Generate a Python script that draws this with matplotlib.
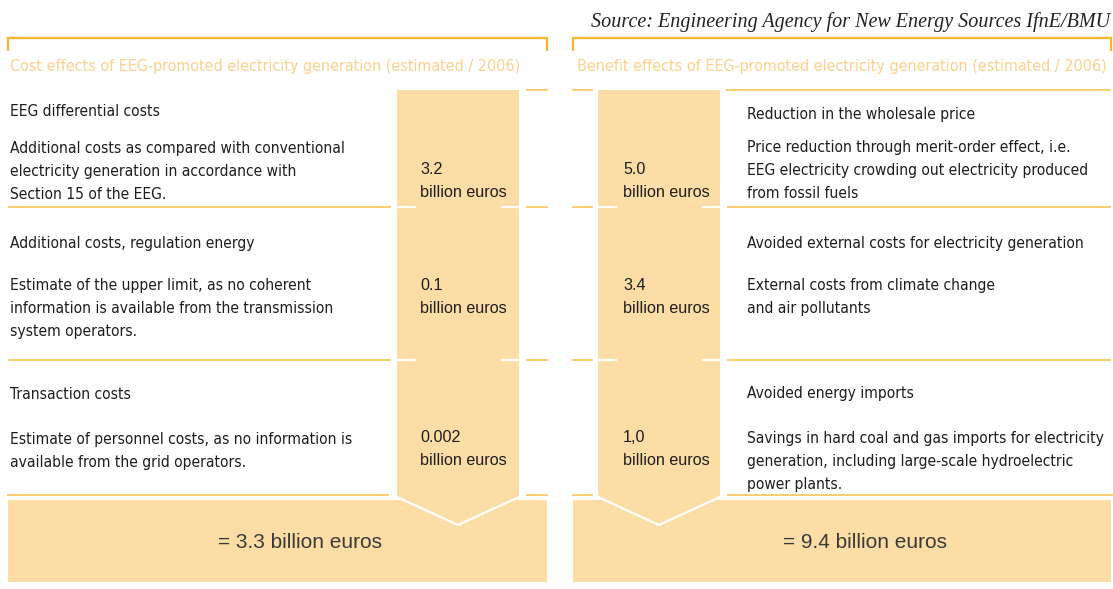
import os
import matplotlib
matplotlib.use("Agg")
import matplotlib.pyplot as plt
from matplotlib import font_manager as fm
from matplotlib.patches import Polygon, Rectangle

# ---------------- data ----------------
source_text = "Source: Engineering Agency for New Energy Sources IfnE/BMU"
cost_title = "Cost effects of EEG-promoted electricity generation (estimated / 2006)"
benefit_title = "Benefit effects of EEG-promoted electricity generation (estimated / 2006)"

cost_headings = ["EEG differential costs",
                 "Additional costs, regulation energy",
                 "Transaction costs"]
cost_descriptions = [
    ["Additional costs as compared with conventional",
     "electricity generation in accordance with",
     "Section 15 of the EEG."],
    ["Estimate of the upper limit, as no coherent",
     "information is available from the transmission",
     "system operators."],
    ["Estimate of personnel costs, as no information is",
     "available from the grid operators."],
]
cost_values = ["3.2", "0.1", "0.002"]
cost_total = "3.3"

benefit_headings = ["Reduction in the wholesale price",
                    "Avoided external costs for electricity generation",
                    "Avoided energy imports"]
benefit_descriptions = [
    ["Price reduction through merit-order effect, i.e.",
     "EEG electricity crowding out electricity produced",
     "from fossil fuels"],
    ["External costs from climate change",
     "and air pollutants"],
    ["Savings in hard coal and gas imports for electricity",
     "generation, including large-scale hydroelectric",
     "power plants."],
]
benefit_values = ["5.0", "3.4", "1,0"]
benefit_total = "9.4"
unit = "billion euros"

# ---------------- fonts ----------------
def find_font(candidates):
    files = {os.path.basename(f.fname): f.fname for f in fm.fontManager.ttflist}
    for c in candidates:
        if c in files:
            return files[c]
    return None

body_file = find_font(["LiberationSansNarrow-Regular.ttf", "DejaVuSansCondensed.ttf"])
if body_file and "Narrow" in body_file:
    body_size = 12.8
elif body_file:
    body_size = 11.2
else:
    body_size = 10.2
title_size = body_size * 1.03

def body_fp(size=None):
    s = size if size else body_size
    if body_file:
        return fm.FontProperties(fname=body_file, size=s)
    return fm.FontProperties(family="DejaVu Sans", size=s)

value_fp = fm.FontProperties(family="Liberation Sans", size=11.6)
total_fp = fm.FontProperties(family="Liberation Sans", size=15)
source_fp = fm.FontProperties(family="Liberation Serif", style="italic", size=14.5)

# ---------------- colours ----------------
FILL = "#FCDDA6"
BRACKET = "#F9B42A"
SEP = "#FBC963"
TITLE = "#FDD08C"
TEXT = "#1e1e1e"
TOTAL_TXT = "#3a3a3a"

# ---------------- figure ----------------
W, H = 1113, 589
fig = plt.figure(figsize=(W / 100, H / 100), dpi=100)
ax = fig.add_axes([0, 0, 1, 1])
ax.set_xlim(0, W)
ax.set_ylim(H, 0)
ax.axis("off")

panels = [
    dict(x0=8, x1=547, bx0=397, bx1=519, text_x=10, val_x=420, total_x=300, title_x=10,
         title=cost_title, heads=cost_headings, descs=cost_descriptions,
         vals=cost_values, total=cost_total, side="left"),
    dict(x0=573, x1=1111, bx0=598, bx1=720, text_x=747, val_x=623, total_x=865, title_x=577,
         title=benefit_title, heads=benefit_headings, descs=benefit_descriptions,
         vals=benefit_values, total=benefit_total, side="right"),
]

row_seps = [207, 360]
top_y, bottom_y = 90, 495
head_base = [[116, 248, 399], [119, 248, 398]]
desc_base = [[153, 290, 444], [152, 290, 443]]
val_base = [174, 290, 442]
line_gap = 22.8

for pi, p in enumerate(panels):
    x0, x1, bx0, bx1 = p["x0"], p["x1"], p["bx0"], p["bx1"]
    bxm = (bx0 + bx1) / 2
    # bracket
    ax.plot([x0, x0, x1, x1], [51, 38, 38, 51], color=BRACKET, lw=1.6,
            solid_joinstyle="miter", solid_capstyle="butt")
    # title
    ax.text(p["title_x"], 66, p["title"], fontproperties=body_fp(title_size),
            color=TITLE, ha="left", va="center")
    # total box
    ax.add_patch(Rectangle((x0, 500), x1 - x0, 82, facecolor=FILL, edgecolor="none", zorder=1))
    # column bar with chevron
    ax.add_patch(Polygon([(bx0, top_y), (bx1, top_y), (bx1, 497), (bxm, 525), (bx0, 497)],
                         closed=True, facecolor=FILL, edgecolor="none", zorder=2))
    ax.plot([bx0, bxm, bx1], [497, 525, 497], color="white", lw=1.6, zorder=3)
    # separator lines
    if p["side"] == "left":
        ax.plot([527, 547], [top_y, top_y], color=SEP, lw=1.3, zorder=3)
        for y in row_seps:
            ax.plot([9, 390], [y, y], color=SEP, lw=1.3, zorder=3)
            ax.plot([527, 547], [y, y], color=SEP, lw=1.3, zorder=3)
        ax.plot([8, 388], [bottom_y, bottom_y], color=SEP, lw=1.3, zorder=3)
        ax.plot([527, 547], [bottom_y, bottom_y], color=SEP, lw=1.3, zorder=3)
    else:
        ax.plot([573, 592], [top_y, top_y], color=SEP, lw=1.3, zorder=3)
        ax.plot([727, 1110], [top_y, top_y], color=SEP, lw=1.3, zorder=3)
        for y in row_seps:
            ax.plot([573, 592], [y, y], color=SEP, lw=1.3, zorder=3)
            ax.plot([728, 1110], [y, y], color=SEP, lw=1.3, zorder=3)
        ax.plot([573, 592], [bottom_y, bottom_y], color=SEP, lw=1.3, zorder=3)
        ax.plot([728, 1112], [bottom_y, bottom_y], color=SEP, lw=1.3, zorder=3)
    for y in row_seps:
        ax.plot([bx0, bx0 + 18], [y, y], color="white", lw=1.6, zorder=3)
        ax.plot([bx1 - 17, bx1], [y, y], color="white", lw=1.6, zorder=3)

    # row texts
    for r in range(3):
        ax.text(p["text_x"], head_base[pi][r], p["heads"][r], fontproperties=body_fp(),
                color=TEXT, ha="left", va="baseline", zorder=4)
        for li, line in enumerate(p["descs"][r]):
            ax.text(p["text_x"], desc_base[pi][r] + li * line_gap, line, fontproperties=body_fp(),
                    color=TEXT, ha="left", va="baseline", zorder=4)
        ax.text(p["val_x"], val_base[r], p["vals"][r], fontproperties=value_fp,
                color=TEXT, ha="left", va="baseline", zorder=4)
        ax.text(p["val_x"], val_base[r] + 23, unit, fontproperties=value_fp,
                color=TEXT, ha="left", va="baseline", zorder=4)
    # total
    ax.text(p["total_x"], 543, "= " + p["total"] + " " + unit, fontproperties=total_fp,
            color=TOTAL_TXT, ha="center", va="center", zorder=4)

ax.text(1110, 27, source_text, fontproperties=source_fp, color="#222222",
        ha="right", va="baseline")

fig.savefig("out.png", dpi=100, facecolor="white")
